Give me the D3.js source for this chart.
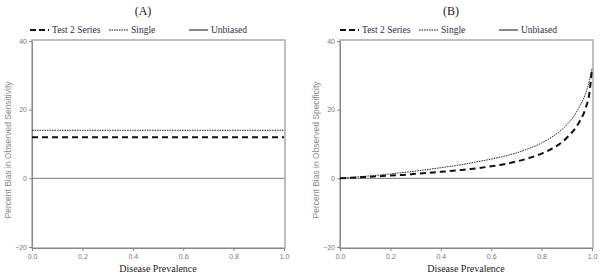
<!DOCTYPE html>
<html>
<head>
<meta charset="utf-8">
<script src="https://cdn.jsdelivr.net/npm/d3@7"></script>
<style>
body { margin: 0; background: #fff; }
svg { display: block; }
</style>
</head>
<body>
<svg width="600" height="280"></svg>
<script>
var prevalence = [0, 0.05, 0.1, 0.15, 0.2, 0.25, 0.3, 0.35, 0.4, 0.45, 0.5, 0.55, 0.6, 0.65, 0.7, 0.75, 0.8, 0.85, 0.9, 0.95, 0.975, 0.99, 1.0];
// panel A: sensitivity bias, flat
var sensSeries = [12, 12, 12, 12, 12, 12, 12, 12, 12, 12, 12, 12, 12, 12, 12, 12, 12, 12, 12, 12, 12, 12, 12];
var sensSingle = [14, 14, 14, 14, 14, 14, 14, 14, 14, 14, 14, 14, 14, 14, 14, 14, 14, 14, 14, 14, 14, 14, 14];
// panel B: specificity bias
var specSeries = [0, 0.2, 0.4, 0.6, 0.8, 1.0, 1.3, 1.6, 1.9, 2.2, 2.6, 3.0, 3.5, 4.1, 4.9, 5.9, 7.2, 9.0, 11.8, 16.5, 20.5, 25.0, 32];
var specSingle = [0, 0.3, 0.6, 0.9, 1.3, 1.7, 2.1, 2.6, 3.1, 3.6, 4.2, 4.9, 5.6, 6.4, 7.4, 8.7, 10.3, 12.5, 15.6, 20.8, 24.8, 28.5, 32];
var xTicks = [0, 0.2, 0.4, 0.6, 0.8, 1.0];
var yTicks = [-20, 0, 20, 40];
var panels = [
  {title: "(A)", ylab: "Percent Bias in Observed Sensitivity", series: sensSeries, single: sensSingle, left: 32, right: 284, legX: 30},
  {title: "(B)", ylab: "Percent Bias in Observed Specificity", series: specSeries, single: specSingle, left: 340, right: 592, legX: 340}
];

var svg = d3.select("svg");
var plotTop = 41, plotBottom = 247;
var serif = "'Liberation Serif', 'Times New Roman', serif";
var sans = "'Liberation Sans', Arial, sans-serif";

panels.forEach(function (p) {
  var x = d3.scaleLinear().domain([0, 1]).range([p.left, p.right]);
  var y = d3.scaleLinear().domain([-20, 40]).range([plotBottom, plotTop]);
  var g = svg.append("g");

  // frame
  g.append("rect")
    .attr("x", p.left).attr("y", plotTop - 1)
    .attr("width", p.right - p.left + 1).attr("height", plotBottom - plotTop + 2)
    .attr("fill", "none").attr("stroke", "#aaa").attr("stroke-width", 1.5);

  var yAxis = g.append("g")
    .attr("transform", "translate(" + p.left + ",0)")
    .call(d3.axisLeft(y).tickValues(yTicks).tickSize(3).tickPadding(2));
  var xAxis = g.append("g")
    .attr("transform", "translate(0," + (plotBottom + 1) + ")")
    .call(d3.axisBottom(x).tickValues(xTicks).tickSize(3).tickPadding(3).tickFormat(d3.format(".1f")));
  [yAxis, xAxis].forEach(function (a) {
    a.select(".domain").attr("stroke", "#888");
    a.selectAll(".tick line").attr("stroke", "#888");
    a.selectAll("text").attr("fill", "#777").style("font-family", sans).style("font-size", "7px");
  });

  // unbiased reference line
  g.append("line")
    .attr("x1", x(0)).attr("x2", x(1))
    .attr("y1", y(0)).attr("y2", y(0))
    .attr("stroke", "#777").attr("stroke-width", 1);

  var line = d3.line()
    .x(function (d, i) { return x(prevalence[i]); })
    .y(function (d) { return y(d); })
    .curve(d3.curveMonotoneX);

  g.append("path").datum(p.single)
    .attr("d", line).attr("fill", "none")
    .attr("stroke", "#222").attr("stroke-width", 1)
    .attr("stroke-dasharray", "1.5,1");
  g.append("path").datum(p.series)
    .attr("d", line).attr("fill", "none")
    .attr("stroke", "#111").attr("stroke-width", 2)
    .attr("stroke-dasharray", "6,4");

  // titles and labels
  g.append("text")
    .attr("x", (p.left + p.right) / 2 - 15).attr("y", 15)
    .attr("text-anchor", "middle")
    .style("font-family", serif).style("font-size", "12px")
    .attr("fill", "#222")
    .text(p.title);
  g.append("text")
    .attr("x", (p.left + p.right) / 2).attr("y", 272)
    .attr("text-anchor", "middle")
    .style("font-family", serif).style("font-size", "10px")
    .attr("fill", "#222")
    .text("Disease Prevalence");
  g.append("text")
    .attr("transform", "translate(" + (p.left - 21) + "," + ((plotTop + plotBottom) / 2 + 6) + ") rotate(-90)")
    .attr("text-anchor", "middle")
    .style("font-family", sans).style("font-size", "8.5px")
    .attr("fill", "#888")
    .text(p.ylab);

  // legend
  var items = [
    {name: "Test 2 Series", dash: "6,3", w: 2, off: 0},
    {name: "Single", dash: "1.5,1", w: 1, off: 79},
    {name: "Unbiased", dash: null, w: 1, off: 159}
  ];
  var legend = g.append("g").attr("transform", "translate(" + p.legX + ",30)");
  items.forEach(function (it) {
    var row = legend.append("g").attr("transform", "translate(" + it.off + ",0)");
    row.append("line")
      .attr("x1", 0).attr("x2", 19).attr("y1", 0).attr("y2", 0)
      .attr("stroke", "#111").attr("stroke-width", it.w)
      .attr("stroke-dasharray", it.dash);
    row.append("text")
      .attr("x", 22).attr("y", 3)
      .style("font-family", serif).style("font-size", "9.5px")
      .attr("fill", "#2a2f45")
      .text(it.name);
  });
});
</script>
</body>
</html>
